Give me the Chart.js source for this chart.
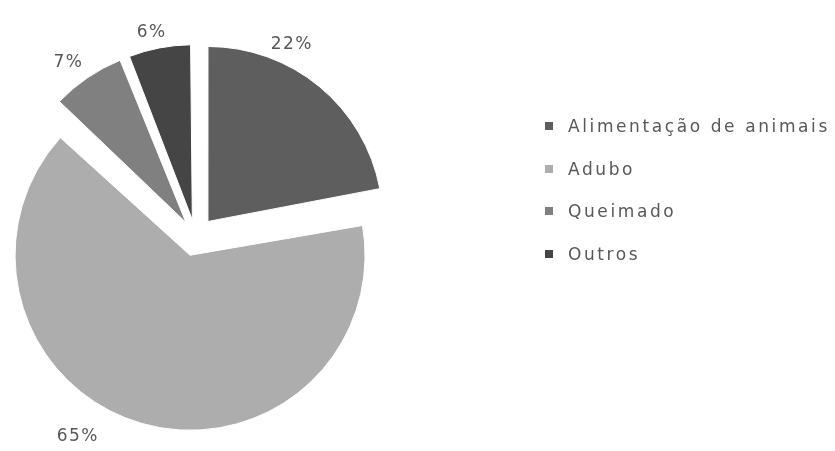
<!DOCTYPE html>
<html>
<head>
<meta charset="utf-8">
<script src="https://cdn.jsdelivr.net/npm/chart.js@4"></script>
<style>
  body { margin: 0; background: #fff; }
  #wrap { position: relative; width: 835px; height: 451px; }
  #legend {
    position: absolute; left: 545px; top: 105px;
    list-style: none; margin: 0; padding: 0;
    font-family: "DejaVu Sans", sans-serif; font-size: 17px;
    letter-spacing: 2.6px; color: #585858;
  }
  #legend li { display: flex; align-items: center; height: 42.5px; white-space: nowrap; }
  #legend span.box { display: inline-block; width: 8px; height: 8px; margin-right: 15px; }
</style>
</head>
<body>
<div id="wrap">
  <canvas id="chart" width="835" height="451"></canvas>
  <ul id="legend"></ul>
</div>
<script>
const labels = ["Alimentação de animais", "Adubo", "Queimado", "Outros"];
const values = [22, 65, 7, 6];
const colors = ["#5e5e5e", "#adadad", "#808080", "#454545"];

// where each percentage sits: fraction along the slice, distance from centre
const labelAt = [
  { f: 0.336, d: 215 },
  { f: 0.561, d: 232 },
  { f: 0.42, d: 215 },
  { f: 0.44, d: 209 }
];

// exploded arcs get a bigger radius in Chart.js; pull them back to the common one
const keepRadius = {
  id: "keepRadius",
  beforeDatasetsDraw(chart) {
    const meta = chart.getDatasetMeta(0);
    const r = meta.controller.outerRadius;
    meta.data.forEach(arc => {
      const shift = (arc.options.offset || 0) / 4;
      const fix = 1 - Math.sin(Math.min(Math.PI, arc.circumference));
      arc.outerRadius = r - shift * fix;
    });
  }
};

const pctLabels = {
  id: "pctLabels",
  afterDatasetsDraw(chart) {
    const ctx = chart.ctx;
    const total = values.reduce((a, b) => a + b, 0);
    ctx.save();
    ctx.font = "17px 'DejaVu Sans'";
    ctx.letterSpacing = "1.5px";
    ctx.fillStyle = "#585858";
    ctx.textAlign = "center";
    ctx.textBaseline = "middle";
    chart.getDatasetMeta(0).data.forEach((arc, i) => {
      const p = labelAt[i];
      const a = arc.startAngle + (arc.endAngle - arc.startAngle) * p.f;
      const x = arc.x + Math.cos(a) * p.d;
      const y = arc.y + Math.sin(a) * p.d;
      ctx.fillText(Math.round(values[i] / total * 100) + "%", x, y);
    });
    ctx.restore();
  }
};

new Chart(document.getElementById("chart"), {
  type: "pie",
  data: {
    labels: labels,
    datasets: [{
      data: values,
      backgroundColor: colors,
      borderColor: "#ffffff",
      borderWidth: 1,
      offset: [78, 78, 68, 68]
    }]
  },
  options: {
    responsive: false,
    animation: false,
    radius: 175,
    layout: { padding: { left: 0, right: 444, top: 22, bottom: 0 } },
    plugins: {
      legend: { display: false },
      tooltip: { enabled: false }
    }
  },
  plugins: [keepRadius, pctLabels]
});

/* LEGEND */
const legend = document.getElementById("legend");
labels.forEach((name, i) => {
  const li = document.createElement("li");
  const box = document.createElement("span");
  box.className = "box";
  box.style.background = colors[i];
  li.appendChild(box);
  li.appendChild(document.createTextNode(name));
  legend.appendChild(li);
});
</script>
</body>
</html>
